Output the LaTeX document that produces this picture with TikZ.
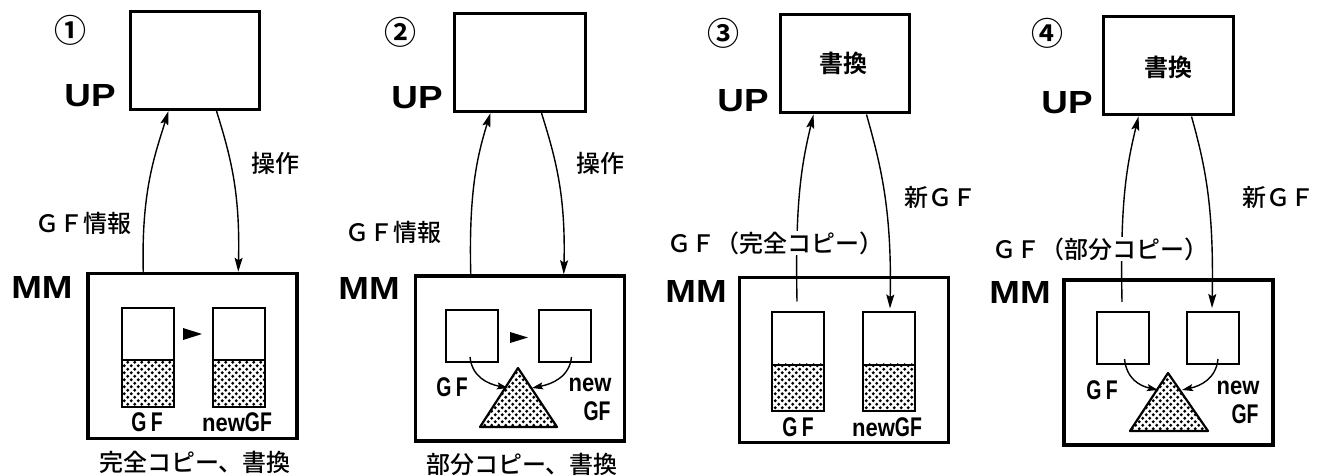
\documentclass[tikz,border=0pt]{standalone}
\usepackage{fontspec}
\setmainfont{Liberation Sans}
\newfontfamily\jp{Noto Sans CJK JP Medium}
\newfontfamily\jpb{Noto Sans CJK JP Bold}
\newfontfamily\widebf{Liberation Sans Bold}[FakeStretch=1.15]
\newfontfamily\condbf{Liberation Sans Bold}[FakeStretch=0.72]
\newfontfamily\newbf{Liberation Sans Bold}[FakeStretch=0.88]
\usetikzlibrary{arrows.meta,patterns,calc}
\pgfdeclarepatternformonly{mydots}{\pgfqpoint{-1pt}{-1pt}}{\pgfqpoint{8pt}{8pt}}{\pgfqpoint{7pt}{7pt}}{%
  \pgfpathcircle{\pgfqpoint{1.75pt}{1.75pt}}{1.7pt}%
  \pgfpathcircle{\pgfqpoint{5.25pt}{5.25pt}}{1.7pt}%
  \pgfusepath{fill}}
\tikzset{
  upbox/.style={draw, line width=3pt, minimum width=#1, minimum height=98pt, inner sep=0pt},
  mmbox/.style={draw, line width=3.5pt, minimum width=209pt, minimum height=165pt, inner sep=0pt},
  bar/.style={draw, line width=2pt, minimum width=52pt, minimum height=99pt, inner sep=0pt},
  sq/.style={draw, line width=2pt, minimum width=52pt, minimum height=52pt, inner sep=0pt},
  dotsfill/.style={pattern=mydots},
  arr/.style={line width=1.4pt, -{Stealth[length=14pt,width=8pt,inset=2.5pt]}},
  sarr/.style={line width=1.4pt, -{Stealth[length=11pt,width=7pt,inset=2pt]}},
  bigl/.style={font=\widebf\fontsize{32}{32}\selectfont, inner sep=0pt},
  jpl/.style={font=\jp\fontsize{24}{24}\selectfont, inner sep=1pt},
  jplw/.style={font=\jp\fontsize{24}{24}\selectfont, inner sep=1pt, fill=white},
  jpbl/.style={font=\jpb\fontsize{24}{24}\selectfont, inner sep=0pt},
  circl/.style={font=\jpb\fontsize{32}{32}\selectfont, inner sep=0pt},
  gfl/.style={font=\condbf\fontsize{27}{27}\selectfont, inner sep=0pt},
  newl/.style={font=\newbf\fontsize{25}{25}\selectfont, inner sep=0pt},
}
\begin{document}
\begin{tikzpicture}[x=1pt,y=-1pt]
\useasboundingbox (0,0) rectangle (1319,476);
% ================= Panel 1 =================
\node[circl] (c1) at (70,30) {①};
\node[upbox=129pt] (up1) at (194.5,60.5) {};
\node[bigl] (upl1) at (90,96) {UP};
\node[mmbox] (mm1) at (192.5,356) {};
\node[bigl] (mml1) at (42,287) {MM};
\fill[dotsfill] (121,359) rectangle (174,407);
\fill[dotsfill] (213,359) rectangle (265,407);
\node[bar] (a1) at (147.5,357) {};
\node[bar] (b1) at (239,357) {};
\draw[line width=2pt] ($(a1.south west)+(0,-48)$) -- ($(a1.south east)+(0,-48)$);
\draw[line width=2pt] ($(b1.south west)+(0,-48)$) -- ($(b1.south east)+(0,-48)$);
\fill (183,328) -- (202,334) -- (183,340) -- cycle;
\node[gfl] (gf1) at (147,422) {G\,F};
\node (ngf1) at (237,422) {\newbf\fontsize{25}{25}\selectfont new\condbf\fontsize{27}{27}\selectfont GF};
\coordinate (s1) at ($(mm1.north west)+(57,0)$);
\coordinate (t1) at ($(up1.south west)+(40,0)$);
\draw[arr] (s1) .. controls ($(s1)+(-2,-80)$) and ($(t1)+(-14,45)$) .. (t1);
\coordinate (s1b) at ($(up1.south west)+(88,0)$);
\coordinate (t1b) at ($(mm1.north west)+(152,0)$);
\draw[arr] (s1b) .. controls ($(s1b)+(14,45)$) and ($(t1b)+(2,-80)$) .. (t1b);
\node[jpl] (op1) at (275,163) {操作};
\node[jpl] (gi1) at (83,223) {ＧＦ情報};
\node[jpl] (cap1) at (195,462) {完全コピー、書換};
% ================= Panel 2 =================
\node[circl] (c2) at (400,32) {②};
\node[upbox=131pt] (up2) at (519.5,62.5) {};
\node[bigl] (upl2) at (417,98) {UP};
\node[mmbox] (mm2) at (520,358.5) {};
\node[bigl] (mml2) at (369,288) {MM};
\node[sq] (a2) at (472,336) {};
\node[sq] (b2) at (564.5,336) {};
\fill (510,332) -- (528,337.5) -- (510,343) -- cycle;
\coordinate (p2a) at (518,368);
\coordinate (p2b) at (557,427);
\coordinate (p2c) at (480,427);
\fill[dotsfill] (p2a) -- (p2b) -- (p2c) -- cycle;
\draw[line width=2.2pt, line join=round] (p2a) -- (p2b) -- (p2c) -- cycle;
\coordinate (e2a) at (508,388);
\coordinate (e2b) at (532,388);
\coordinate (f2a) at ($(a2.south)+(-2,-6)$);
\coordinate (f2b) at ($(b2.south)+(7,-6)$);
\draw[sarr] (f2a) .. controls ($(f2a)+(2,20)$) and ($(e2a)+(-20,-4)$) .. (e2a);
\draw[sarr] (f2b) .. controls ($(f2b)+(-2,20)$) and ($(e2b)+(20,-4)$) .. (e2b);
\node[gfl] (gf2) at (452,387) {G\,F};
\node[newl] (nw2) at (590,385) {new};
\node[gfl] (ngf2) at (597,411) {GF};
\coordinate (s2) at ($(mm2.north west)+(57,0)$);
\coordinate (t2) at ($(up2.south west)+(38,0)$);
\draw[arr] (s2) .. controls ($(s2)+(-2,-80)$) and ($(t2)+(-14,45)$) .. (t2);
\coordinate (s2b) at ($(up2.south west)+(89,0)$);
\coordinate (t2b) at ($(mm2.north west)+(150,0)$);
\draw[arr] (s2b) .. controls ($(s2b)+(14,45)$) and ($(t2b)+(2,-80)$) .. (t2b);
\node[jpl] (op2) at (600,163) {操作};
\node[jpl] (gi2) at (393,232) {ＧＦ情報};
\node[jpl] (cap2) at (522,464) {部分コピー、書換};
% ================= Panel 3 =================
\node[circl] (c3) at (723,33) {③};
\node[upbox=129pt] (up3) at (844.5,64) {};
\node[jpbl] (w3) at (843,63) {書換};
\node[bigl] (upl3) at (743,101) {UP};
\node[mmbox] (mm3) at (844,360) {};
\node[bigl] (mml3) at (696,291) {MM};
\fill[dotsfill] (772,363) rectangle (824,410);
\fill[dotsfill] (862,363) rectangle (915,410);
\node[bar] (a3) at (798,361) {};
\node[bar] (b3) at (888.5,361) {};
\draw[line width=2pt] ($(a3.south west)+(0,-47)$) -- ($(a3.south east)+(0,-47)$);
\draw[line width=2pt] ($(b3.south west)+(0,-47)$) -- ($(b3.south east)+(0,-47)$);
\node[gfl] (gf3) at (798,427) {G\,F};
\node (ngf3) at (887,427) {\newbf\fontsize{25}{25}\selectfont new\condbf\fontsize{27}{27}\selectfont GF};
\coordinate (s3) at ($(a3.north)+(-1,-9)$);
\coordinate (t3) at ($(up3.south west)+(35,0)$);
\draw[arr] (s3) .. controls ($(s3)+(-2,-100)$) and ($(t3)+(-12,50)$) .. (t3);
\coordinate (s3b) at ($(up3.south west)+(88,0)$);
\coordinate (t3b) at ($(b3.north)+(1.5,-2)$);
\draw[arr] (s3b) .. controls ($(s3b)+(14,50)$) and ($(t3b)+(2,-100)$) .. (t3b);
\node[jpl] (ng3) at (940,197) {新ＧＦ};
\node[jplw] (gc3) at (775,243) {ＧＦ（完全コピー）};
% ================= Panel 4 =================
\node[circl] (c4) at (1047,33) {④};
\node[upbox=130pt] (up4) at (1168,66) {};
\node[jpbl] (w4) at (1168,67) {書換};
\node[bigl] (upl4) at (1067,103) {UP};
\node[mmbox] (mm4) at (1168.5,362.5) {};
\node[bigl] (mml4) at (1020,292) {MM};
\node[sq] (a4) at (1122.5,338) {};
\node[sq] (b4) at (1213,338) {};
\coordinate (p4a) at (1168,373);
\coordinate (p4b) at (1208,431);
\coordinate (p4c) at (1130,431);
\fill[dotsfill] (p4a) -- (p4b) -- (p4c) -- cycle;
\draw[line width=2.2pt, line join=round] (p4a) -- (p4b) -- (p4c) -- cycle;
\coordinate (e4a) at (1158,390);
\coordinate (e4b) at (1182,390);
\coordinate (f4a) at ($(a4.south)+(2,-6)$);
\coordinate (f4b) at ($(b4.south)+(5,-6)$);
\draw[sarr] (f4a) .. controls ($(f4a)+(2,20)$) and ($(e4a)+(-18,-4)$) .. (e4a);
\draw[sarr] (f4b) .. controls ($(f4b)+(-2,20)$) and ($(e4b)+(18,-4)$) .. (e4b);
\node[gfl] (gf4) at (1102,390) {G\,F};
\node[newl] (nw4) at (1238,388) {new};
\node[gfl] (ngf4) at (1245,414) {GF};
\coordinate (s4) at ($(a4.north)+(-0.5,-9)$);
\coordinate (t4) at ($(up4.south west)+(37,0)$);
\draw[arr] (s4) .. controls ($(s4)+(-2,-100)$) and ($(t4)+(-12,50)$) .. (t4);
\coordinate (s4b) at ($(up4.south west)+(90,0)$);
\coordinate (t4b) at ($(b4.north)+(-1,-3)$);
\draw[arr] (s4b) .. controls ($(s4b)+(14,50)$) and ($(t4b)+(2,-100)$) .. (t4b);
\node[jpl] (ng4) at (1278,197) {新ＧＦ};
\node[jplw] (gc4) at (1100,249) {ＧＦ（部分コピー）};
\end{tikzpicture}
\end{document}
